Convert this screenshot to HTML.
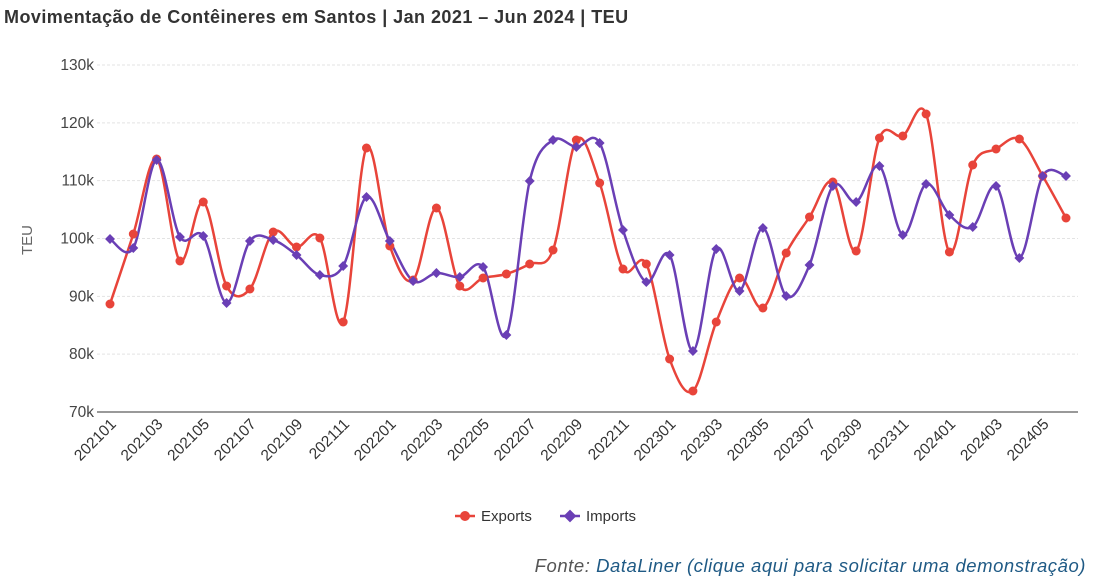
<!DOCTYPE html>
<html><head><meta charset="utf-8"><style>
body{margin:0;background:#fff;width:1110px;height:582px;overflow:hidden;font-family:"Liberation Sans",sans-serif;}
</style></head><body>
<svg id="s" width="1110" height="582" xmlns="http://www.w3.org/2000/svg">
<text x="4" y="23" font-size="18" font-weight="bold" fill="#333" letter-spacing="0.45">Movimentação de Contêineres em Santos | Jan 2021 – Jun 2024 | TEU</text>
<g id="grid" stroke="#e3e3e3" stroke-dasharray="3,2" stroke-width="1"></g>
<g id="ylab" font-size="15.5" fill="#444" text-anchor="end"></g>
<line x1="97" y1="412" x2="1078" y2="412" stroke="#333" stroke-width="1"/>
<text transform="translate(32,240) rotate(-90)" font-size="15" fill="#666" text-anchor="middle">TEU</text>
<g id="xlab" font-size="15.5" fill="#333" text-anchor="end"></g>
<g id="series"></g>
<g font-size="15" fill="#333">
<line x1="455" y1="516" x2="475" y2="516" stroke="#e8443a" stroke-width="2.5"/><circle cx="465" cy="516" r="5" fill="#e8443a"/>
<text x="481" y="521">Exports</text>
<line x1="560" y1="516" x2="580" y2="516" stroke="#6a3fb5" stroke-width="2.5"/><rect x="565.5" y="511.5" width="9" height="9" transform="rotate(45 570 516)" fill="#6a3fb5"/>
<text x="586" y="521">Imports</text>
</g>
<text x="1086" y="572" font-size="18.5" font-style="italic" text-anchor="end" letter-spacing="0.55"><tspan fill="#555">Fonte: </tspan><tspan fill="#1f5a85">DataLiner (clique aqui para solicitar uma demonstração)</tspan></text>
</svg>
<script>
var ns="http://www.w3.org/2000/svg";
function el(t,a,p){var e=document.createElementNS(ns,t);for(var k in a)e.setAttribute(k,a[k]);p.appendChild(e);return e;}
var g=document.getElementById('grid'),yl=document.getElementById('ylab'),xl=document.getElementById('xlab'),se=document.getElementById('series');
for(var i=0;i<6;i++){var y=65+i*57.83;el('line',{x1:97,y1:y,x2:1078,y2:y},g);}
for(i=0;i<7;i++){var y=65+i*57.83;var t=el('text',{x:94,y:y+5},yl);t.textContent=(130-i*10)+'k';}
var X0=110,DX=(1066-110)/41;
var labs=[];for(var yr=2021;yr<=2024;yr++)for(var m=1;m<=12;m++)labs.push(yr+(m<10?'0':'')+m);
for(i=0;i<42;i+=2){var x=X0+i*DX;var t=el('text',{x:x+7,y:425,transform:'rotate(-45 '+(x+7)+' 425)'},xl);t.textContent=labs[i];}
var ex=[304,234,159,261,202,286,289,232,247,238,322,148,246,280,208,286,278,274,264,250,140,183,269,264,359,391,322,278,308,253,217,182,251,138,136,114,252,165,149,139,176,218];
var im=[239,248,160,237,236,303,241,240,255,275,266,197,241,281,273,277,267,335,181,140,147,143,230,282,255,351,249,291,228,296,265,186,202,166,235,184,215,227,186,258,176,176];
function path(d){var p=d.map(function(v,i){return [X0+i*DX,v];});var s='M'+p[0][0]+','+p[0][1];
for(var i=0;i<p.length-1;i++){var a=p[Math.max(0,i-1)],b=p[i],c=p[i+1],e=p[Math.min(p.length-1,i+2)];
s+=' C'+(b[0]+(c[0]-a[0])/6)+','+(b[1]+(c[1]-a[1])/6)+' '+(c[0]-(e[0]-b[0])/6)+','+(c[1]-(e[1]-b[1])/6)+' '+c[0]+','+c[1];}return s;}
el('path',{d:path(ex),fill:'none',stroke:'#e8443a','stroke-width':2.5},se);
el('path',{d:path(im),fill:'none',stroke:'#6a3fb5','stroke-width':2.5},se);
ex.forEach(function(v,i){el('circle',{cx:X0+i*DX,cy:v,r:4.5,fill:'#e8443a'},se);});
im.forEach(function(v,i){var x=X0+i*DX;el('rect',{x:x-3.5,y:v-3.5,width:7,height:7,fill:'#6a3fb5',transform:'rotate(45 '+x+' '+v+')'},se);});
</script>
</body></html>
